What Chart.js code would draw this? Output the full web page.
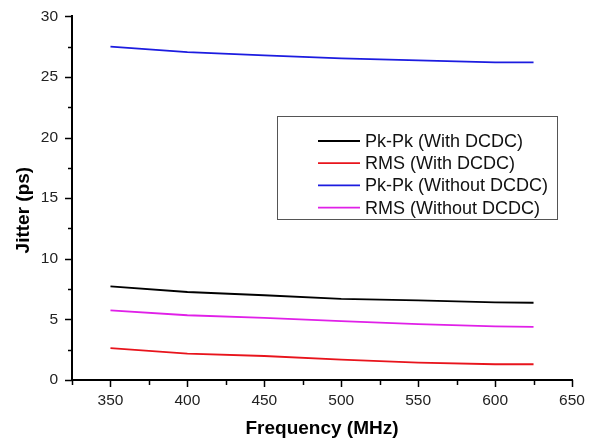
<!DOCTYPE html>
<html><head><meta charset="utf-8">
<script src="https://cdn.jsdelivr.net/npm/chart.js@4/dist/chart.umd.min.js"></script>
<style>html,body{margin:0;padding:0;background:#fff}#wrap{width:596px;height:443px;position:relative}</style>
</head><body><div id="wrap"><canvas id="c"></canvas></div>
<script>
const frequencies = [350, 400, 450, 500, 550, 600, 625];
const pkpkWithDCDC = [7.72, 7.26, 6.99, 6.69, 6.56, 6.40, 6.37];
const rmsWithDCDC = [2.63, 2.17, 1.98, 1.68, 1.44, 1.30, 1.30];
const pkpkWithoutDCDC = [27.5, 27.05, 26.77, 26.53, 26.37, 26.2, 26.2];
const rmsWithoutDCDC = [5.75, 5.34, 5.12, 4.85, 4.61, 4.42, 4.39];
const seriesLabels = ['Pk-Pk (With DCDC)', 'RMS (With DCDC)', 'Pk-Pk (Without DCDC)', 'RMS (Without DCDC)'];
const xTickLabels = [350, 400, 450, 500, 550, 600, 650];
const xMinorTicks = [325, 375, 425, 475, 525, 575, 625];
const yTickLabels = [0, 5, 10, 15, 20, 25, 30];
const yMinorTicks = [2.5, 7.5, 12.5, 17.5, 22.5, 27.5];
const xTitle = 'Frequency (MHz)';
const yTitle = 'Jitter (ps)';

const FONT = "'Liberation Sans', Arial, sans-serif";
const colors = ['#000000', '#e8141c', '#1c1ce0', '#e020e8'];
const seriesValues = [pkpkWithDCDC, rmsWithDCDC, pkpkWithoutDCDC, rmsWithoutDCDC];

const datasets = seriesValues.map((vals, i) => ({
  label: seriesLabels[i],
  data: frequencies.map((f, j) => ({x: f, y: vals[j]})),
  borderColor: colors[i],
  backgroundColor: colors[i],
  borderWidth: 1.8,
  pointRadius: 0,
  tension: 0,
  fill: false
}));

const ticksPlugin = {
  id: 'axisTicks',
  afterDraw(chart) {
    const ctx = chart.ctx;
    const xs = chart.scales.x, ys = chart.scales.y;
    const area = chart.chartArea;
    ctx.save();
    ctx.strokeStyle = '#000';
    ctx.lineWidth = 1.5;
    xs.ticks.forEach(t => {
      const px = Math.round(xs.getPixelForValue(t.value)) + 0.5;
      const len = xTickLabels.includes(t.value) ? 7 : 5;
      ctx.beginPath(); ctx.moveTo(px, area.bottom); ctx.lineTo(px, area.bottom + len); ctx.stroke();
    });
    ys.ticks.forEach(t => {
      const py = Math.round(ys.getPixelForValue(t.value)) + 0.5;
      const len = yTickLabels.includes(t.value) ? 7 : 4;
      ctx.beginPath(); ctx.moveTo(area.left, py); ctx.lineTo(area.left - len, py); ctx.stroke();
    });
    ctx.fillStyle = '#000';
    ctx.font = "bold 19px " + FONT;
    ctx.textAlign = 'center';
    ctx.textBaseline = 'middle';
    ctx.translate(24, (area.top + area.bottom) / 2 + 12);
    ctx.rotate(-Math.PI / 2);
    ctx.fillText(yTitle, 0, 0);
    ctx.restore();
  }
};

const legendPlugin = {
  id: 'boxLegend',
  afterDraw(chart) {
    const ctx = chart.ctx;
    const bx = 277, by = 116, bw = 280, bh = 103;
    ctx.save();
    ctx.fillStyle = '#fff';
    ctx.fillRect(bx, by, bw, bh);
    ctx.strokeStyle = '#555';
    ctx.lineWidth = 1;
    ctx.strokeRect(bx + 0.5, by + 0.5, bw, bh);
    ctx.font = "18px " + FONT;
    ctx.textBaseline = 'middle';
    ctx.textAlign = 'left';
    chart.data.datasets.forEach((ds, i) => {
      const y = by + 25 + i * 22.2;
      ctx.strokeStyle = ds.borderColor;
      ctx.lineWidth = 1.8;
      ctx.beginPath(); ctx.moveTo(318, y); ctx.lineTo(360, y); ctx.stroke();
      ctx.fillStyle = '#111';
      ctx.fillText(ds.label, 365, y + 1);
    });
    ctx.restore();
  }
};

new Chart(document.getElementById('c'), {
  type: 'line',
  data: { datasets },
  options: {
    responsive: true,
    maintainAspectRatio: false,
    animation: false,
    layout: { padding: { top: 11, right: 24, left: 0, bottom: 0 } },
    plugins: { legend: { display: false }, tooltip: { enabled: false } },
    scales: {
      x: {
        type: 'linear',
        min: 325, max: 650,
        afterBuildTicks: s => { s.ticks = xMinorTicks.concat(xTickLabels).sort((a, b) => a - b).map(v => ({value: v})); },
        afterFit: s => { s.height = 63; },
        ticks: {
          autoSkip: false, maxRotation: 0, padding: 4,
          color: '#222', font: { family: FONT, size: 15.5 },
          callback: v => xTickLabels.includes(v) ? String(v) : ''
        },
        grid: { display: true, drawOnChartArea: false, tickLength: 7, tickColor: 'rgba(0,0,0,0)' },
        border: { display: true, color: '#000', width: 2 },
        title: { display: true, text: xTitle, color: '#000', font: { family: FONT, size: 19, weight: 'bold' }, padding: { top: 0, bottom: 3 } }
      },
      y: {
        type: 'linear',
        min: 0, max: 30,
        afterBuildTicks: s => { s.ticks = yMinorTicks.concat(yTickLabels).sort((a, b) => a - b).map(v => ({value: v})); },
        afterFit: s => { s.width = 72; },
        ticks: {
          autoSkip: false, padding: 7,
          color: '#222', font: { family: FONT, size: 15.5 },
          callback: v => yTickLabels.includes(v) ? String(v) : ''
        },
        grid: { display: true, drawOnChartArea: false, tickLength: 7, tickColor: 'rgba(0,0,0,0)' },
        border: { display: true, color: '#000', width: 2 }
      }
    }
  },
  plugins: [ticksPlugin, legendPlugin]
});
</script></body></html>
